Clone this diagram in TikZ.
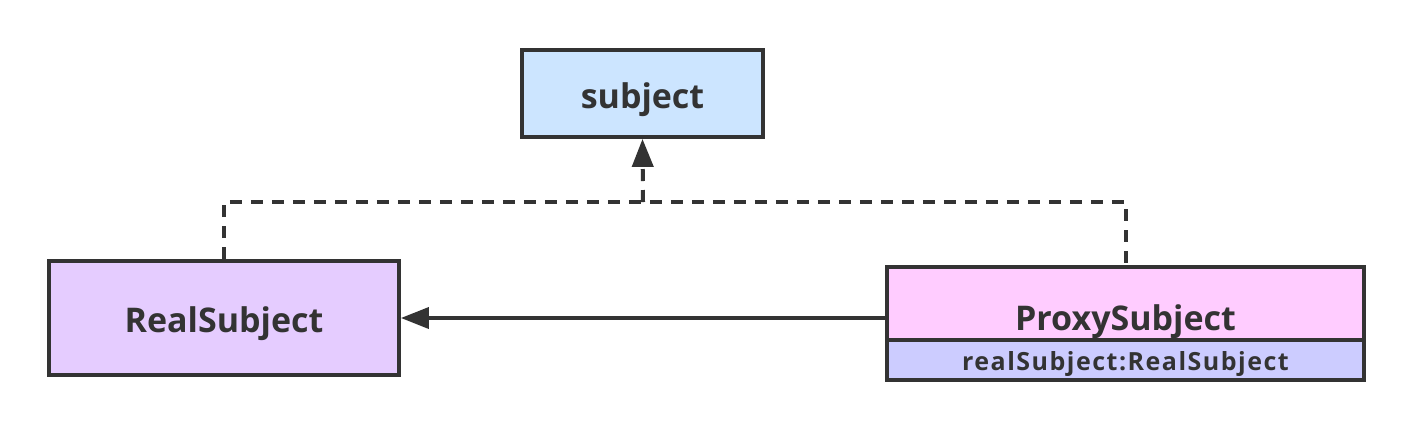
\documentclass[tikz,border=0pt]{standalone}
\usepackage{fontspec}
\setmainfont{Open Sans}
\usetikzlibrary{arrows.meta,positioning,calc}
\definecolor{umlink}{RGB}{51,51,51}
\definecolor{ifacefill}{RGB}{204,229,255}
\definecolor{realfill}{RGB}{229,204,255}
\definecolor{proxyfill}{RGB}{255,204,255}
\definecolor{attrfill}{RGB}{204,204,255}
\tikzset{cls/.style={draw=umlink,line width=1.9pt,inner sep=0pt,text=umlink,
    text height=16pt,text depth=1.5pt,font=\bfseries\fontsize{17}{20}\selectfont},
  attr/.style={cls,text height=11pt,text depth=1pt,
    font=\bfseries\fontsize{12.5}{15}\selectfont\addfontfeature{LetterSpace=6}},
  realize/.style={-{Triangle[length=14pt,width=10.5pt]},line width=2pt,umlink,
    dash pattern=on 6pt off 4.5pt},
  assoc/.style={-{Triangle[length=14pt,width=10.5pt]},line width=1.9pt,umlink}}

\begin{document}
\begin{tikzpicture}[x=0.5pt,y=-0.5pt]
\useasboundingbox (0,0) rectangle (1414,430);
\node[cls,fill=ifacefill,minimum width=120.5pt,minimum height=43.5pt] (subj) at (642.5,93.5) {subject};
\node[cls,fill=realfill,minimum width=175pt,minimum height=57pt] (real) at (224,318) {RealSubject};
\node[cls,fill=proxyfill,minimum width=238.5pt,minimum height=36.5pt,text height=27pt,text depth=0pt] (proxy) at (1125.5,303.5) {ProxySubject};
\node[attr,fill=attrfill,minimum width=238.5pt,minimum height=20pt,anchor=north] (pattr) at ([yshift=1.9pt]proxy.south) {realSubject:RealSubject};
\coordinate (join) at (643,202);
\draw[realize,-] (real.north) |- (join) -| (proxy.north);
\draw[realize] (join) -- (subj.south);
\draw[assoc] (proxy.west |- real.east) -- (real.east);
\end{tikzpicture}
\end{document}
